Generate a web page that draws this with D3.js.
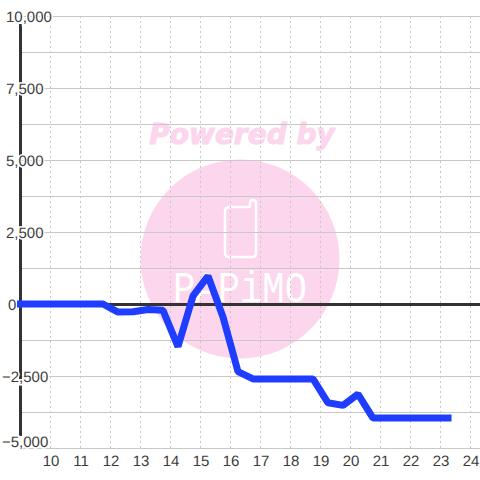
<!DOCTYPE html>
<html>
<head>
<meta charset="utf-8">
<script src="https://cdn.jsdelivr.net/npm/d3@7/dist/d3.min.js"></script>
<style>
html, body { margin: 0; padding: 0; background: #fff; }
svg { display: block; }
text { font-family: "Liberation Sans", sans-serif; }
</style>
</head>
<body>
<div id="chart"></div>
<script>
var hours = [9, 11.75, 12.25, 12.75, 13.25, 13.75, 14.25, 14.75, 15.25, 15.75, 16.25, 16.75, 17.25, 17.75, 18.25, 18.75, 19.25, 19.75, 20.25, 20.75, 21.25, 21.75, 22.25, 22.75, 23.25];
var values = [0, 0, -280, -270, -190, -220, -1480, 280, 970, -450, -2350, -2600, -2600, -2600, -2600, -2600, -3430, -3520, -3130, -3960, -3960, -3960, -3960, -3960, -3960];
var xTicks = [10, 11, 12, 13, 14, 15, 16, 17, 18, 19, 20, 21, 22, 23, 24];
var yGrid = [10000, 8750, 7500, 6250, 5000, 3750, 2500, 1250, 0, -1250, -2500, -3750, -5000];
var yLabels = [10000, 7500, 5000, 2500, 0, -2500, -5000];
var brandText = "Powered by";
var brandName = "PAPiMO";

var x = d3.scaleLinear().domain([9, 24]).range([20.5, 470.5]);
var y = d3.scaleLinear().domain([-5000, 10000]).range([448, 16]);

var svg = d3.select("#chart").append("svg")
    .attr("width", 480)
    .attr("height", 480);

// watermark sits under the grid
var mark = svg.append("g").attr("class", "watermark");
mark.append("circle")
    .attr("cx", 240)
    .attr("cy", 259)
    .attr("r", 99.5)
    .attr("fill", "#fcd6ec");
mark.append("text")
    .attr("x", 242)
    .attr("y", 144)
    .attr("text-anchor", "middle")
    .attr("font-size", 28)
    .attr("font-weight", "bold")
    .attr("font-style", "italic")
    .style("font-family", "'DejaVu Sans', sans-serif")
    .attr("fill", "#fcd6ec")
    .attr("stroke", "#fcd6ec")
    .attr("stroke-width", 1)
    .text(brandText);
mark.append("path")
    .attr("d", "M231 207 H249 Q250 207 250 205 V203 Q250 200 253 200 Q256 200 256 203 V253 Q256 257 252 257 H229 Q225 257 225 253 V211 Q225 207 231 207 Z")
    .attr("fill", "none")
    .attr("stroke", "#fff")
    .attr("stroke-width", 2.5);
mark.append("text")
    .attr("x", 240)
    .attr("y", 302)
    .attr("text-anchor", "middle")
    .attr("font-size", 44)
    .attr("textLength", 134)
    .attr("lengthAdjust", "spacingAndGlyphs")
    .style("font-family", "'Liberation Mono', monospace")
    .attr("fill", "#fff")
    .text(brandName);

// grid
svg.append("g").selectAll("line")
    .data(xTicks)
    .enter().append("line")
    .attr("x1", function (d) { return x(d); })
    .attr("x2", function (d) { return x(d); })
    .attr("y1", y(10000))
    .attr("y2", y(-5000))
    .attr("stroke", "#c8c8c8")
    .attr("stroke-width", 1)
    .attr("stroke-dasharray", "2,3");
svg.append("g").selectAll("line")
    .data(yGrid)
    .enter().append("line")
    .attr("x1", 20)
    .attr("x2", 480)
    .attr("y1", function (d) { return y(d) + 0.5; })
    .attr("y2", function (d) { return y(d) + 0.5; })
    .attr("stroke", "#c8c8c8")
    .attr("stroke-width", 1);

// zero line and y axis line
svg.append("line")
    .attr("x1", 20)
    .attr("x2", 480)
    .attr("y1", y(0) + 0.5)
    .attr("y2", y(0) + 0.5)
    .attr("stroke", "#333")
    .attr("stroke-width", 3);
svg.append("line")
    .attr("x1", 20.5)
    .attr("x2", 20.5)
    .attr("y1", 24)
    .attr("y2", 436)
    .attr("stroke", "#333")
    .attr("stroke-width", 3);

// axes, labels only
var xAxis = svg.append("g")
    .attr("transform", "translate(0,448)")
    .call(d3.axisBottom(x).tickValues(xTicks).tickSize(0).tickPadding(7).tickFormat(d3.format("d")));
var yAxis = svg.append("g")
    .attr("transform", "translate(0,0)")
    .call(d3.axisLeft(y).tickValues(yLabels).tickSize(0).tickFormat(d3.format(",")));
xAxis.select(".domain").remove();
yAxis.select(".domain").remove();
yAxis.selectAll("text")
    .attr("text-anchor", "start")
    .attr("x", function (d) { return d < 0 ? 2 : (d === 0 ? 8 : 6); })
    .attr("y", function (d) { return d === -5000 ? -6.5 : 0.5; });
svg.selectAll(".tick text")
    .attr("font-size", 15)
    .style("font-family", "'Liberation Sans', sans-serif")
    .style("text-rendering", "geometricPrecision")
    .attr("fill", "#3c3c3c")
    .attr("stroke", "#fff")
    .attr("stroke-width", 3)
    .attr("paint-order", "stroke");

// series
var line = d3.line()
    .x(function (d, i) { return x(hours[i]); })
    .y(function (d) { return y(d); });
svg.append("path")
    .datum(values)
    .attr("d", line)
    .attr("fill", "none")
    .attr("stroke", "#1f3dff")
    .attr("stroke-width", 7)
    .attr("stroke-linejoin", "bevel")
    .attr("stroke-linecap", "square");
</script>
</body>
</html>
